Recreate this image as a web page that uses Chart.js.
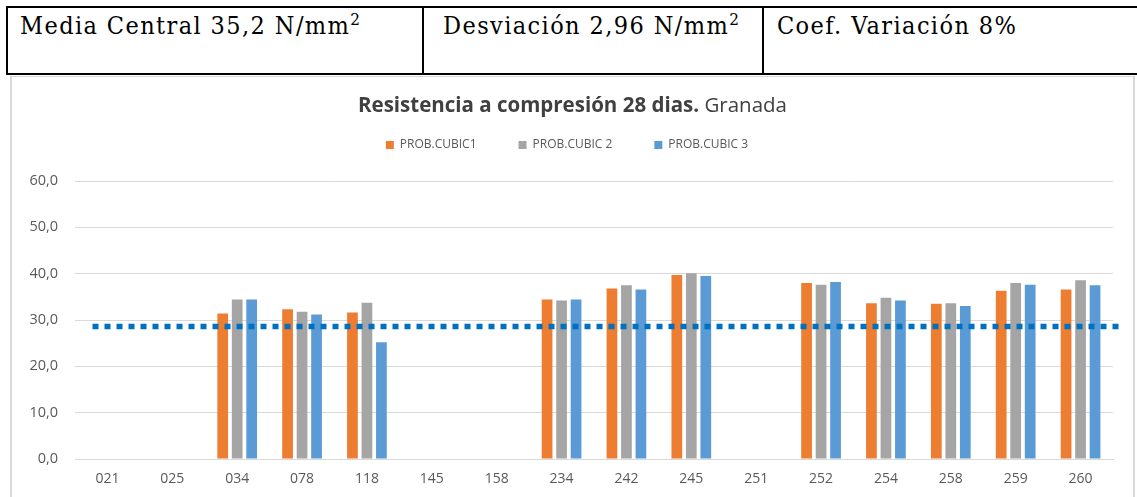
<!DOCTYPE html>
<html lang="es">
<head>
<meta charset="utf-8">
<title>Resistencia a compresión 28 dias</title>
<script src="https://cdn.jsdelivr.net/npm/chart.js@4.4.1/dist/chart.umd.min.js"></script>
<style>
    html, body {
        margin: 0;
        padding: 0;
        width: 1137px;
        height: 497px;
        overflow: hidden;
        background: #fff;
    }
    .stats {
        position: absolute;
        left: 6px;
        top: 6px;
        width: 1200px;
        height: 65px;
        border-top: 2px solid #000;
        border-left: 2px solid #000;
        border-bottom: 2px solid #000;
    }
    .stats .divider {
        position: absolute;
        top: 0;
        width: 2px;
        height: 65px;
        background: #000;
    }
    .stats .cell-text {
        position: absolute;
        top: 3px;
        font-family: "DejaVu Serif Condensed", "Liberation Serif", serif;
        font-size: 25px;
        line-height: 30px;
        letter-spacing: 1.4px;
        color: #000;
        white-space: nowrap;
    }
    .stats sup {
        font-size: 0.68em;
        line-height: 0;
        vertical-align: 0.55em;
    }
    .chart-box {
        position: absolute;
        left: 10px;
        top: 76px;
        width: 1121px;
        height: 430px;
        border: 2px solid #d9d9d9;
        border-top-width: 1px;
    }
    .chart-title {
        position: absolute;
        left: 0;
        top: 14px;
        width: 100%;
        text-align: center;
        font-family: "Open Sans", sans-serif;
        font-size: 20.5px;
        line-height: 26px;
        color: #404040;
    }
    .chart-title b {
        font-weight: 700;
    }
    #resChart {
        position: absolute;
        left: 0;
        top: 0;
    }
</style>
</head>
<body>

<div class="stats">
    <div class="cell-text" style="left: 12px;">Media Central 35,2 N/mm<sup>2</sup></div>
    <div class="divider" style="left: 414px;"></div>
    <div class="cell-text" style="left: 435px;">Desviación 2,96 N/mm<sup>2</sup></div>
    <div class="divider" style="left: 754px;"></div>
    <div class="cell-text" style="left: 769px;">Coef. Variación 8%</div>
</div>

<div class="chart-box">
    <canvas id="resChart" width="1121" height="420"></canvas>
    <div class="chart-title"><b>Resistencia a compresión 28 dias.</b> Granada</div>
</div>

<script>
// Probetas (codes on the x axis)
const CATEGORIES = ['021', '025', '034', '078', '118', '145', '158', '234',
                    '242', '245', '251', '252', '254', '258', '259', '260'];

// N/mm2 per cube, null where the sample has no result
const CUBIC_1 = [null, null, 31.4, 32.3, 31.6, null, null, 34.4, 36.8, 39.7, null, 38.0, 33.6, 33.5, 36.3, 36.6];
const CUBIC_2 = [null, null, 34.4, 31.8, 33.7, null, null, 34.2, 37.5, 40.1, null, 37.6, 34.8, 33.6, 38.0, 38.6];
const CUBIC_3 = [null, null, 34.4, 31.2, 25.2, null, null, 34.4, 36.6, 39.5, null, 38.2, 34.2, 33.0, 37.6, 37.5];

const SERIES_NAMES = ['PROB.CUBIC1', 'PROB.CUBIC 2', 'PROB.CUBIC 3'];
const SERIES_COLORS = ['#ed7d31', '#a5a5a5', '#5b9bd5'];

// Dotted reference level and how far it runs (in category units)
const REF_LEVEL = 28.6;
const REF_SPAN = [-0.23, 15.59];

const Y_TICKS = ['0,0', '10,0', '20,0', '30,0', '40,0', '50,0', '60,0'];

const TEXT_COLOR = '#595959';
const GRID_COLOR = '#d9d9d9';

// Push the plot down a bit below the legend
const legendGap = {
    id: 'legendGap',
    beforeInit(chart) {
        const fit = chart.legend.fit;
        chart.legend.fit = function () {
            fit.bind(chart.legend)();
            this.height += 20;
        };
    }
};

function initChart() {
    const ctx = document.getElementById('resChart').getContext('2d');

    // one x axis (numeric, one unit per probeta) shared by bars and the dotted line
    const barSets = [CUBIC_1, CUBIC_2, CUBIC_3].map((values, i) => ({
        type: 'bar',
        label: SERIES_NAMES[i],
        data: values.map((v, idx) => ({ x: idx, y: v })),
        backgroundColor: SERIES_COLORS[i],
        borderWidth: 0,
        categoryPercentage: 0.67,
        barPercentage: 0.74,
        order: 1
    }));

    const refLine = {
        type: 'line',
        label: 'media',
        data: REF_SPAN.map(x => ({ x: x, y: REF_LEVEL })),
        borderColor: '#0070c0',
        borderWidth: 5.5,
        borderDash: [6, 6],
        borderCapStyle: 'butt',
        pointRadius: 0,
        fill: false,
        clip: false,
        order: 0
    };

    return new Chart(ctx, {
        data: {
            datasets: [...barSets, refLine]
        },
        options: {
            responsive: false,
            animation: false,
            layout: {
                padding: { top: 20, right: 20, bottom: 10, left: 9 }
            },
            plugins: {
                title: { display: false },
                tooltip: { enabled: false },
                legend: {
                    position: 'top',
                    labels: {
                        boxWidth: 8,
                        boxHeight: 8,
                        padding: 42,
                        color: TEXT_COLOR,
                        font: { family: 'Open Sans', size: 12 },
                        filter: item => item.datasetIndex < 3
                    }
                }
            },
            scales: {
                x: {
                    type: 'linear',
                    offset: false,
                    min: -0.5,
                    max: CATEGORIES.length - 0.5,
                    grid: { display: false, drawTicks: false, offset: false },
                    border: { display: true, color: GRID_COLOR },
                    afterBuildTicks: scale => {
                        scale.ticks = CATEGORIES.map((c, i) => ({ value: i }));
                    },
                    ticks: {
                        color: TEXT_COLOR,
                        padding: 12,
                        maxRotation: 0,
                        autoSkip: false,
                        font: { family: 'Open Sans', size: 14 },
                        callback: (value, index) => CATEGORIES[index]
                    },
                    afterFit: scale => { scale.height = 28; }
                },
                y: {
                    min: 0,
                    max: 60,
                    grid: { color: GRID_COLOR, drawTicks: false },
                    border: { display: false },
                    ticks: {
                        stepSize: 10,
                        padding: 17,
                        color: TEXT_COLOR,
                        font: { family: 'Open Sans', size: 14.5 },
                        callback: (value, index) => Y_TICKS[index]
                    },
                    afterFit: scale => { scale.width = 54; }
                }
            }
        },
        plugins: [legendGap]
    });
}

initChart();
</script>
</body>
</html>
